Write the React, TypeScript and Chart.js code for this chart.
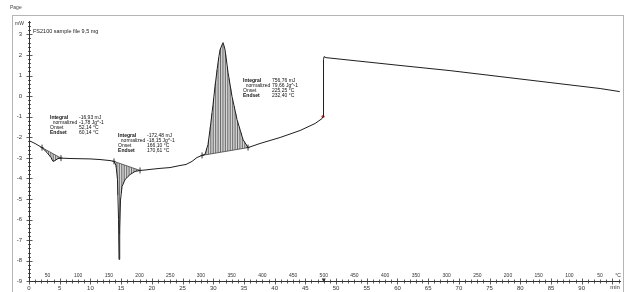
import React, { useEffect, useRef } from 'react';
import { Chart, registerables } from 'chart.js';

Chart.register(...registerables);

// ---- DATA ----
// time axis (min) and heat flow (mW)
const timeMin = [
  0.0, 0.98, 2.12, 2.93, 3.58, 3.91, 4.23, 4.72, 5.21, 6.68, 9.93, 11.56, 13.19, 13.84,
  14.17, 14.41, 14.58, 14.66, 14.77, 14.9, 15.15, 15.64, 16.45, 17.26, 18.08, 18.89,
  19.71, 21.34, 22.96, 24.59, 25.57, 26.55, 27.36, 28.18, 28.66, 29.15, 29.48, 29.97,
  30.29, 30.78, 31.11, 31.6, 31.92, 32.41, 33.06, 33.88, 34.85, 35.67, 37.62, 40.88,
  44.14, 46.58, 47.72, 47.88, 47.96, 48.05, 48.37, 60.42, 68.57, 76.71, 84.85, 93.0, 96.2,
];
const heatFlow = [
  -2.16, -2.3, -2.5, -2.74, -2.98, -3.17, -3.13, -3.03, -3.01, -3.03, -3.05, -3.08, -3.13, -3.17,
  -3.37, -4.05, -5.99, -7.93, -6.48, -5.05, -4.39, -4.05, -3.81, -3.66, -3.61, -3.59,
  -3.56, -3.51, -3.47, -3.37, -3.32, -3.17, -2.98, -2.88, -2.83, -2.35, -1.62, -0.41,
  0.47, 1.63, 2.26, 2.6, 2.26, 1.15, -0.02, -1.14, -2.11, -2.5, -2.3, -2.01,
  -1.67, -1.33, -1.09, -0.99, 1.78, 1.92, 1.87, 1.49, 1.24, 0.95, 0.66, 0.37, 0.22,
];

// segment switch (heating -> cooling) marker
const switchTime = 47.88;
const switchValue = -0.99;

// axis ticks
const timeTickValues = [0, 5, 10, 15, 20, 25, 30, 35, 40, 45, 50, 55, 60, 65, 70, 75, 80, 85, 90];
const yTickValues = [-9, -8, -7, -6, -5, -4, -3, -2, -1, 0, 1, 2, 3];
const tempTickTimes = [3, 8, 13, 18, 23, 28, 33, 38, 43, 48, 53, 58, 63, 68, 73, 78, 83, 88, 93];
const tempTickLabels = [
  '50', '100', '150', '200', '250', '300', '350', '400', '450', '500',
  '450', '400', '350', '300', '250', '200', '150', '100', '50',
];

// integrations (start / end time, min)
const integStart = [2.12, 13.84, 28.18];
const integEnd = [5.21, 18.08, 35.67];
const integLabels = ['Integral', '  normalized', 'Onset', 'Endset'];
const integValues = [
  ['-16,93 mJ', '-1,78 Jg^-1', '52,14 °C', '60,14 °C'],
  ['-172,48 mJ', '-18,15 Jg^-1', '166,10 °C', '170,61 °C'],
  ['756,76 mJ', '79,66 Jg^-1', '225,25 °C', '232,40 °C'],
];
// annotation anchor (time, mW)
const annTime = [3.42, 14.5, 34.85];
const annValue = [-1.04, -1.91, 0.76];

const titleText = 'FS2100 sample file 9,5 mg';
const pageText = 'Page';

const Y_MIN = -9;
const Y_MAX = 3.65;
const X_MAX = 96.4;
const FONT = '"Liberation Sans", Arial, sans-serif';

function interp(t: number): number {
  for (let i = 0; i < timeMin.length - 1; i++) {
    const a = timeMin[i], b = timeMin[i + 1];
    if (t >= a && t <= b) {
      const f = b === a ? 0 : (t - a) / (b - a);
      return heatFlow[i] + f * (heatFlow[i + 1] - heatFlow[i]);
    }
  }
  return heatFlow[heatFlow.length - 1];
}

const decorPlugin = {
  id: 'decor',
  beforeDatasetsDraw(chart: any) {
    const { ctx } = chart;
    const xs = chart.scales.x;
    const ys = chart.scales.y;
    ctx.save();
    ctx.strokeStyle = '#444';
    ctx.lineWidth = 0.8;
    for (let k = 0; k < integStart.length; k++) {
      const t0 = integStart[k], t1 = integEnd[k];
      const v0 = interp(t0), v1 = interp(t1);
      const x0 = xs.getPixelForValue(t0), x1 = xs.getPixelForValue(t1);
      for (let px = Math.ceil(x0) + 0.5; px < x1; px += 1.7) {
        const t = xs.getValueForPixel(px);
        const base = v0 + ((t - t0) / (t1 - t0)) * (v1 - v0);
        const cv = interp(t);
        ctx.beginPath();
        ctx.moveTo(px, ys.getPixelForValue(base));
        ctx.lineTo(px, ys.getPixelForValue(cv));
        ctx.stroke();
      }
      // baseline
      ctx.beginPath();
      ctx.moveTo(x0, ys.getPixelForValue(v0));
      ctx.lineTo(x1, ys.getPixelForValue(v1));
      ctx.stroke();
    }
    ctx.restore();
  },
  afterDraw(chart: any) {
    const { ctx, chartArea } = chart;
    const xs = chart.scales.x;
    const ys = chart.scales.y;
    const { left, right, top, bottom } = chartArea;
    ctx.save();

    // page header & frame
    ctx.fillStyle = '#444';
    ctx.font = `5px ${FONT}`;
    ctx.textBaseline = 'middle';
    ctx.textAlign = 'left';
    ctx.fillText(pageText, 10, 8);
    ctx.strokeStyle = '#b5b5b5';
    ctx.lineWidth = 1;
    ctx.strokeRect(12.5, 15.5, 611, 285);

    // axes lines
    ctx.strokeStyle = '#333';
    ctx.beginPath();
    ctx.moveTo(Math.round(left) + 0.5, top);
    ctx.lineTo(Math.round(left) + 0.5, bottom);
    ctx.moveTo(left, Math.round(bottom) + 0.5);
    ctx.lineTo(right, Math.round(bottom) + 0.5);
    ctx.stroke();

    // y ticks
    ctx.lineWidth = 0.8;
    const lx = Math.round(left) + 0.5;
    for (let i = 0; Y_MIN + i * 0.2 <= Y_MAX + 1e-6; i++) {
      const v = Y_MIN + i * 0.2;
      const py = Math.round(ys.getPixelForValue(v)) + 0.5;
      const major = i % 5 === 0;
      ctx.beginPath();
      ctx.moveTo(lx - (major ? 3 : 1.5), py);
      ctx.lineTo(lx + (major ? 3 : 1.5), py);
      ctx.stroke();
    }
    // x ticks
    const ly = Math.round(bottom) + 0.5;
    for (let t = 0; t <= X_MAX; t += 1) {
      const px = Math.round(xs.getPixelForValue(t)) + 0.5;
      const major = t % 5 === 0;
      ctx.beginPath();
      ctx.moveTo(px, ly - (major ? 3 : 2));
      ctx.lineTo(px, ly + (major ? 3 : 2));
      ctx.stroke();
    }

    // temperature labels
    ctx.fillStyle = '#333';
    ctx.font = `5px ${FONT}`;
    ctx.textAlign = 'center';
    ctx.textBaseline = 'middle';
    tempTickTimes.forEach((t, i) => {
      ctx.fillText(tempTickLabels[i], xs.getPixelForValue(t), bottom - 6);
    });
    ctx.fillText('°C', right - 3, bottom - 6);
    ctx.font = `6px ${FONT}`;
    ctx.fillText('min', right - 6, bottom + 6);
    // segment marker
    const sx = xs.getPixelForValue(48);
    ctx.beginPath();
    ctx.moveTo(sx - 2, bottom - 3);
    ctx.lineTo(sx + 2, bottom - 3);
    ctx.lineTo(sx, bottom + 1);
    ctx.closePath();
    ctx.fill();

    // unit
    ctx.textAlign = 'right';
    ctx.font = `5px ${FONT}`;
    ctx.fillText('mW', left - 5, top + 3);

    // title
    ctx.textAlign = 'left';
    ctx.font = `5.5px ${FONT}`;
    ctx.fillStyle = '#222';
    ctx.fillText(titleText, left + 4, top + 10);

    // integration "+" markers
    ctx.strokeStyle = '#222';
    ctx.lineWidth = 0.9;
    for (let k = 0; k < integStart.length; k++) {
      [integStart[k], integEnd[k]].forEach((t) => {
        const px = xs.getPixelForValue(t);
        const py = ys.getPixelForValue(interp(t));
        ctx.beginPath();
        ctx.moveTo(px, py - 3);
        ctx.lineTo(px, py + 3);
        ctx.moveTo(px - 1.5, py);
        ctx.lineTo(px + 1.5, py);
        ctx.stroke();
      });
    }

    // annotations
    ctx.fillStyle = '#111';
    for (let k = 0; k < annTime.length; k++) {
      const ax = xs.getPixelForValue(annTime[k]);
      const ay = ys.getPixelForValue(annValue[k]);
      integLabels.forEach((lab, j) => {
        const bold = j === 0 || j === 3;
        ctx.font = `${bold ? 'bold ' : ''}5px ${FONT}`;
        ctx.fillText(lab, ax, ay + j * 5);
        ctx.font = `5px ${FONT}`;
        ctx.fillText(integValues[k][j], ax + 29, ay + j * 5);
      });
    }
    ctx.restore();
  },
};

export default function App() {
  const ref = useRef<HTMLCanvasElement | null>(null);
  useEffect(() => {
    if (!ref.current) return;
    const chart = new Chart(ref.current, {
      type: 'line',
      data: {
        datasets: [
          {
            data: timeMin.map((t, i) => ({ x: t, y: heatFlow[i] })),
            borderColor: '#1e1e1e',
            borderWidth: 1,
            pointRadius: 0,
            tension: 0,
            fill: false,
          },
          {
            data: [{ x: switchTime, y: switchValue }],
            borderColor: '#e23b3b',
            backgroundColor: '#e23b3b',
            pointRadius: 1.6,
            pointBorderWidth: 0,
            showLine: false,
          },
        ],
      },
      options: {
        animation: false,
        responsive: false,
        devicePixelRatio: 1,
        layout: { padding: { left: 12, right: 5, top: 21, bottom: 0 } },
        plugins: { legend: { display: false }, tooltip: { enabled: false } },
        scales: {
          x: {
            type: 'linear',
            min: 0,
            max: X_MAX,
            afterFit: (s: any) => { s.height = 10; },
            afterBuildTicks: (s: any) => { s.ticks = timeTickValues.map((v) => ({ value: v })); },
            grid: { display: false, drawTicks: false },
            border: { display: false },
            ticks: {
              padding: 3,
              maxRotation: 0,
              autoSkip: false,
              color: '#333',
              font: { family: FONT, size: 6 },
              callback: (v: any) => String(v),
            },
          },
          y: {
            type: 'linear',
            min: Y_MIN,
            max: Y_MAX,
            afterFit: (s: any) => { s.width = 17; },
            afterBuildTicks: (s: any) => { s.ticks = yTickValues.map((v) => ({ value: v })); },
            grid: { display: false, drawTicks: false },
            border: { display: false },
            ticks: {
              padding: 7,
              autoSkip: false,
              color: '#333',
              font: { family: FONT, size: 6 },
              callback: (v: any) => String(v),
            },
          },
        },
      },
      plugins: [decorPlugin],
    });
    return () => chart.destroy();
  }, []);
  return (
    <div style={{ position: 'absolute', left: 0, top: 0, width: 626, height: 292, background: '#fff' }}>
      <canvas ref={ref} width={626} height={292} />
    </div>
  );
}
